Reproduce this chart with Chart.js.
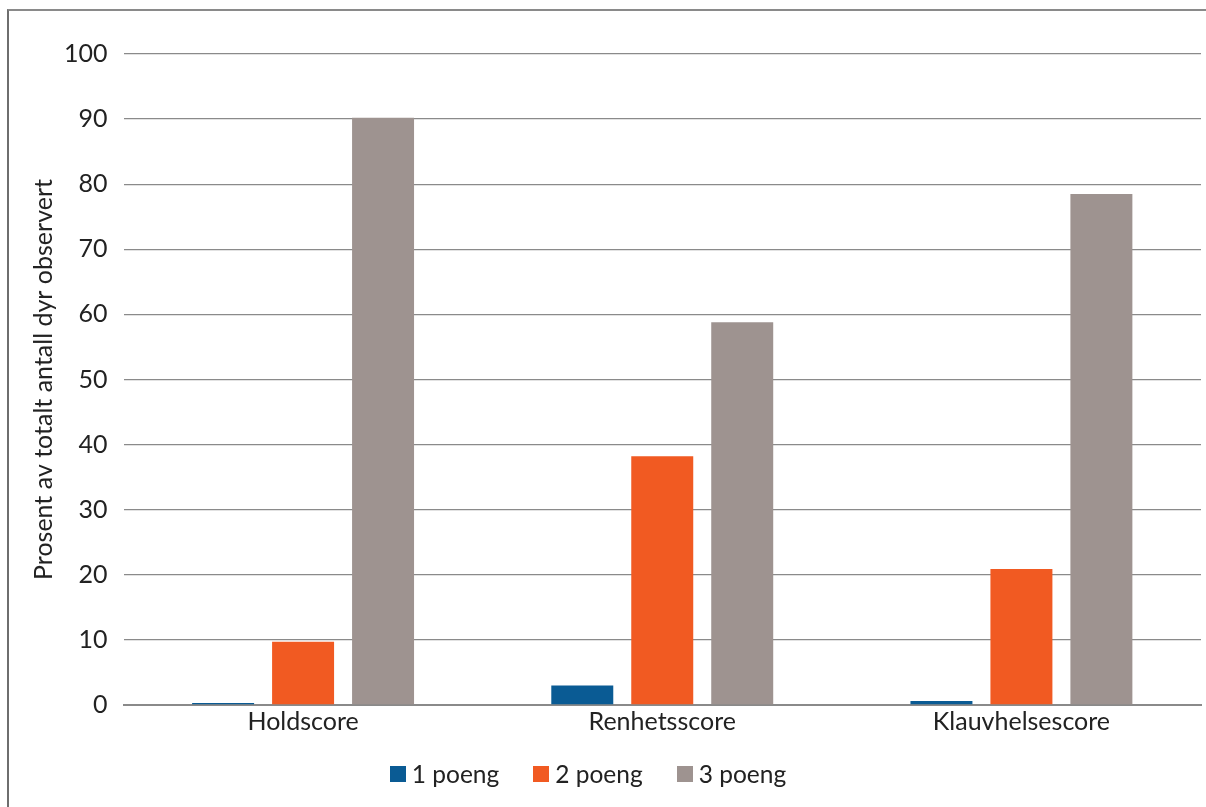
<!DOCTYPE html>
<html>
<head>
<meta charset="utf-8">
<script src="https://cdn.jsdelivr.net/npm/chart.js@4.4.1/dist/chart.umd.min.js"></script>
<style>
  html, body { margin: 0; padding: 0; background: #fff; }
  body { width: 1206px; height: 807px; position: relative; overflow: hidden; font-family: Lato, "Open Sans", sans-serif; }
  #frame { position: absolute; left: 7px; top: 9px; width: 1300px; height: 900px; border-top: 2px solid #8a8a8a; border-left: 2px solid #6e6e6e; box-sizing: border-box; }
  #chart { position: absolute; left: 0; top: 0; }
  #legend { position: absolute; left: 0; width: 1176px; top: 759px; display: flex; justify-content: center; gap: 34px; font-size: 24.5px; line-height: 30px; color: #222; }
  #legend .item { display: flex; align-items: center; }
  #legend .box { width: 16px; height: 16px; margin-right: 6px; }
</style>
</head>
<body>
<div id="frame"></div>
<canvas id="chart" width="1206" height="807"></canvas>
<div id="legend"></div>
<script>
const categories = ["Holdscore", "Renhetsscore", "Klauvhelsescore"];
const seriesNames = ["1 poeng", "2 poeng", "3 poeng"];
const poeng1 = [0.3, 3.0, 0.6];
const poeng2 = [9.7, 38.2, 20.9];
const poeng3 = [90.2, 58.8, 78.5];
const yTicks = [0, 10, 20, 30, 40, 50, 60, 70, 80, 90, 100];
const colors = ["#0a5b94", "#f15a22", "#9e9390"];
const yTitle = "Prosent av totalt antall dyr observert";

const seriesValues = [poeng1, poeng2, poeng3];
const datasets = seriesNames.map((name, i) => ({
  label: name,
  data: seriesValues[i],
  backgroundColor: colors[i],
  borderWidth: 0,
  categoryPercentage: 0.668,
  barPercentage: 0.775
}));

const fontFamily = "Lato, 'Open Sans', sans-serif";
const textFont = { family: fontFamily, size: 25 };

new Chart(document.getElementById("chart"), {
  type: "bar",
  data: { labels: categories, datasets },
  options: {
    responsive: false,
    animation: false,
    layout: { padding: { left: 40, right: 5, top: 54, bottom: 68 } },
    plugins: { legend: { display: false }, tooltip: { enabled: false } },
    scales: {
      x: {
        grid: { display: false, drawTicks: false },
        border: { display: true, color: "#8a8a8a", width: 2 },
        ticks: { color: "#222", font: textFont, padding: 2 }
      },
      y: {
        min: 0, max: 100,
        afterBuildTicks: (axis) => { axis.ticks = yTicks.map(v => ({ value: v })); },
        grid: { color: "#8a8a8a", lineWidth: 1.3, drawTicks: false },
        border: { display: false },
        ticks: { color: "#222", font: textFont, padding: 16 },
        title: { display: true, text: yTitle, color: "#222", font: { family: fontFamily, size: 25, lineHeight: 0.32 }, padding: 0 }
      }
    }
  }
});

const legend = document.getElementById("legend");
seriesNames.forEach((name, i) => {
  const item = document.createElement("div");
  item.className = "item";
  const box = document.createElement("span");
  box.className = "box";
  box.style.background = colors[i];
  const label = document.createElement("span");
  label.textContent = name;
  item.appendChild(box);
  item.appendChild(label);
  legend.appendChild(item);
});
</script>
</body>
</html>
